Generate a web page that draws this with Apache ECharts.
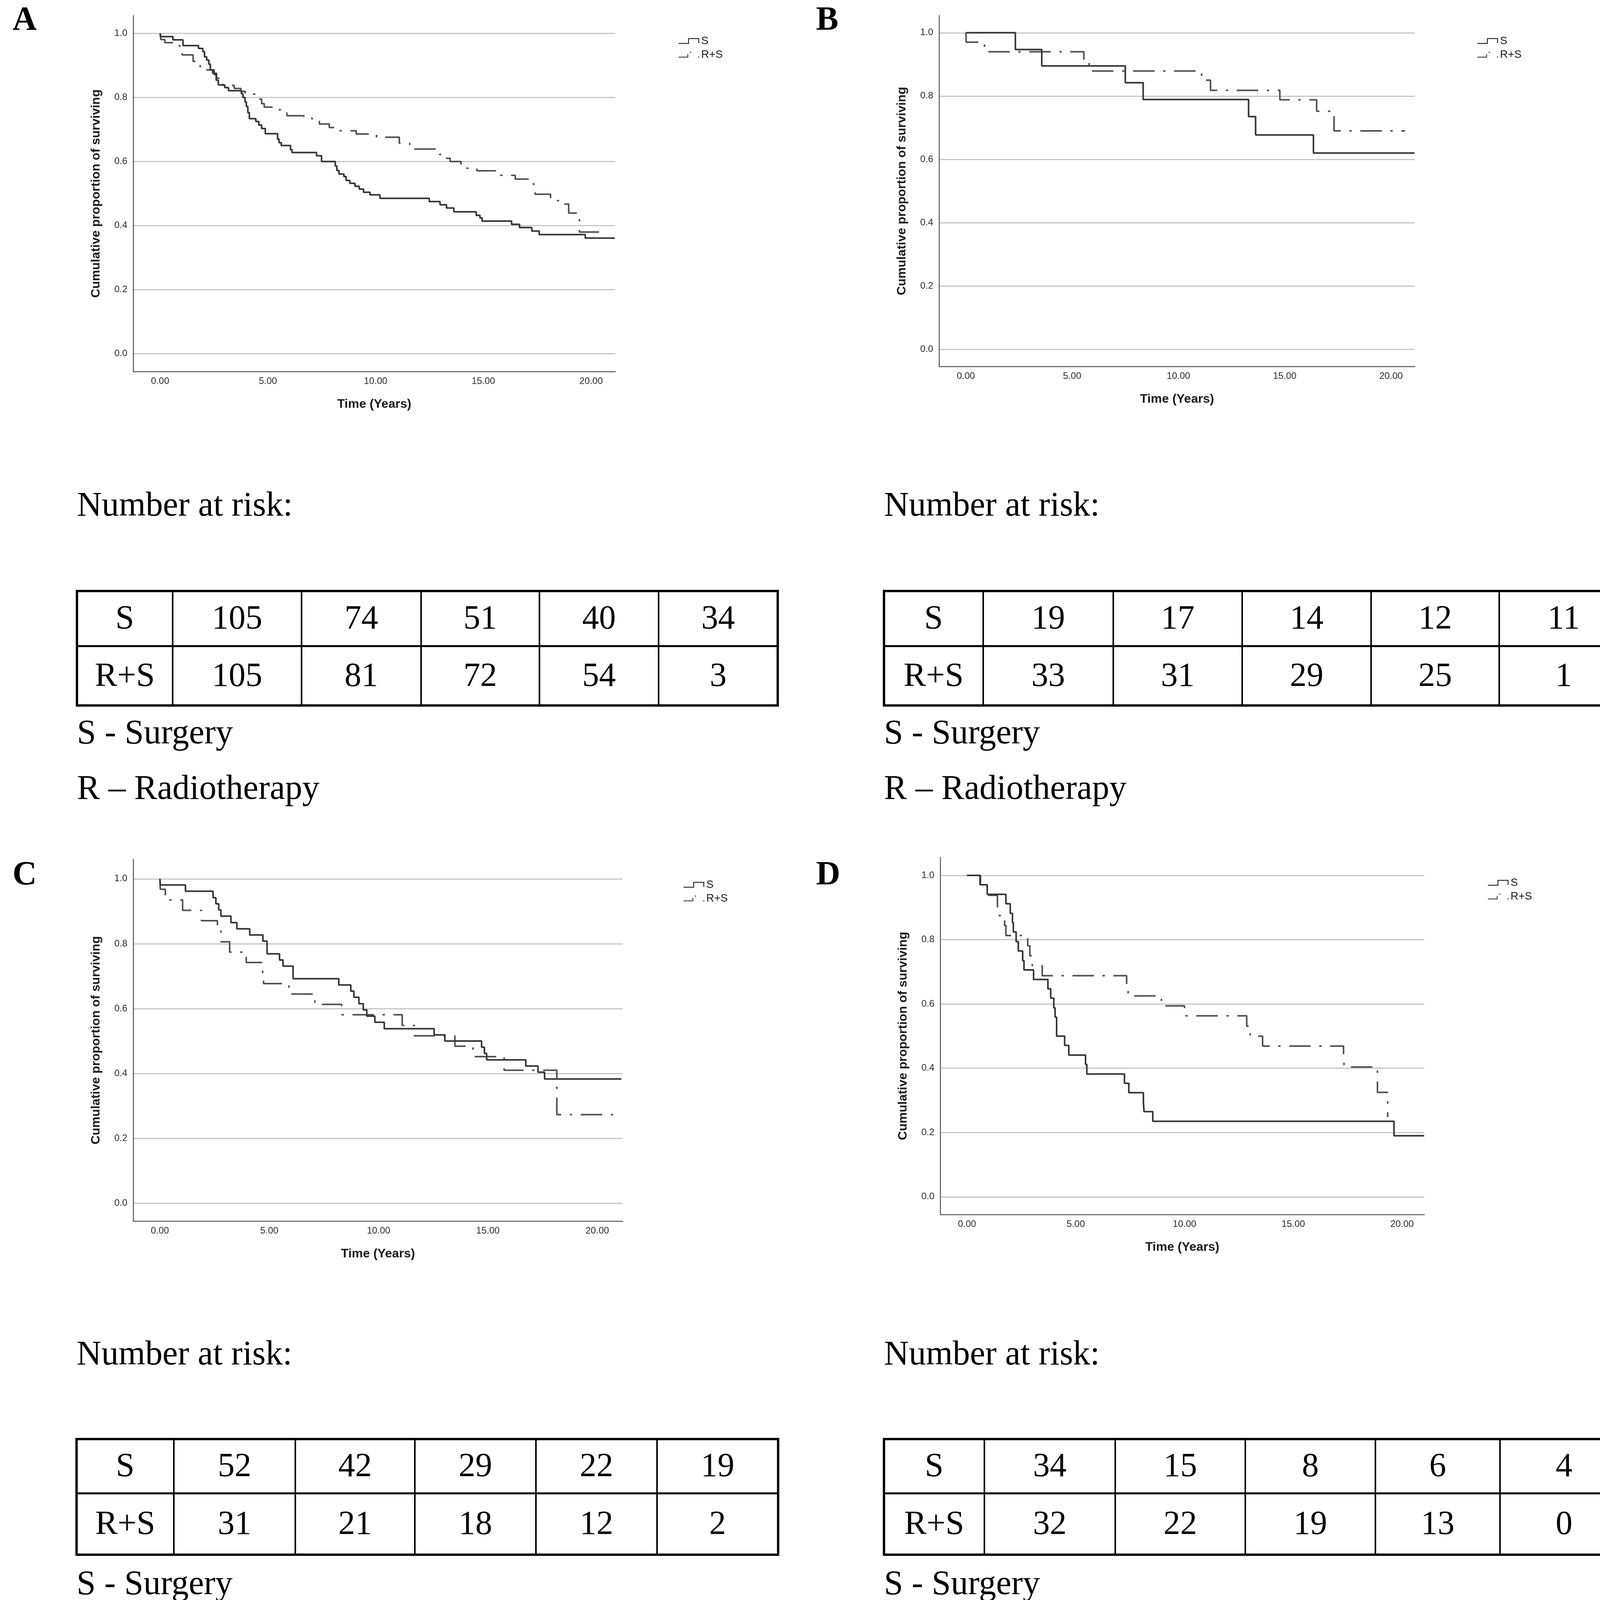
<!DOCTYPE html>
<html>
<head>
<meta charset="utf-8">
<script src="https://cdn.jsdelivr.net/npm/echarts@6/dist/echarts.min.js"></script>
<style>
html,body{margin:0;padding:0;background:#ffffff;}
#chart{width:4211px;height:4272px;}
</style>
</head>
<body>
<div id="chart"></div>
<script>
// ---------------- DATA ----------------
const timeTicks = [0, 5, 10, 15, 20];
const survTicks = [0, 0.2, 0.4, 0.6, 0.8, 1.0];
const seriesNames = ['S', 'R+S'];
const panelLetters = ['A', 'B', 'C', 'D'];

// Kaplan-Meier step points [time (years), cumulative proportion surviving]
const survA_S = [[0,1],[0.02,0.99],[0.59,0.98],[1.06,0.962],[1.78,0.953],[1.98,0.943],[2.06,0.927],[2.16,0.917],[2.26,0.904],[2.33,0.886],[2.5,0.872],[2.6,0.854],[2.7,0.839],[3.0,0.831],[3.17,0.821],[3.77,0.812],[3.84,0.8],[3.94,0.786],[4.0,0.772],[4.07,0.753],[4.14,0.734],[4.44,0.725],[4.58,0.714],[4.71,0.703],[4.88,0.687],[5.45,0.67],[5.52,0.659],[5.62,0.65],[6.05,0.637],[6.12,0.628],[7.26,0.618],[7.49,0.6],[8.13,0.586],[8.2,0.572],[8.3,0.561],[8.53,0.553],[8.63,0.541],[8.8,0.532],[9.04,0.523],[9.24,0.514],[9.44,0.504],[9.74,0.496],[10.2,0.485],[12.49,0.475],[12.99,0.465],[13.29,0.455],[13.63,0.443],[14.67,0.432],[14.84,0.424],[14.94,0.414],[16.31,0.404],[16.68,0.394],[17.25,0.383],[17.59,0.372],[19.73,0.361],[21.1,0.361]];
const survA_RS = [[0,1],[0.03,0.981],[0.22,0.971],[0.69,0.962],[0.92,0.945],[1.02,0.933],[1.53,0.913],[1.69,0.9],[1.86,0.886],[2.43,0.876],[2.62,0.86],[2.9,0.838],[3.44,0.828],[3.75,0.819],[3.95,0.81],[4.58,0.795],[4.71,0.781],[4.83,0.77],[5.5,0.762],[5.88,0.743],[6.67,0.735],[7.06,0.726],[7.39,0.717],[7.85,0.706],[8.26,0.696],[9.1,0.686],[10.04,0.676],[11.1,0.657],[11.58,0.639],[12.96,0.622],[13.13,0.61],[13.46,0.6],[13.96,0.592],[14.23,0.579],[14.7,0.571],[15.64,0.557],[16.48,0.545],[17.32,0.529],[17.4,0.498],[18.12,0.478],[18.49,0.467],[18.96,0.439],[19.46,0.38],[20.75,0.38]];

const survB_S = [[0,1],[2.33,0.947],[3.57,0.895],[7.5,0.842],[8.34,0.789],[13.3,0.735],[13.63,0.677],[16.35,0.62],[21.1,0.62]];
const survB_RS = [[0,1],[0.02,0.97],[0.88,0.94],[5.55,0.909],[5.8,0.879],[11.09,0.85],[11.51,0.818],[14.77,0.788],[16.5,0.752],[17.32,0.69],[20.66,0.69]];

const survC_S = [[0,1],[0.02,0.981],[1.17,0.962],[2.43,0.942],[2.56,0.923],[2.69,0.904],[2.79,0.885],[3.25,0.865],[3.52,0.846],[4.11,0.827],[4.71,0.808],[4.9,0.769],[5.47,0.75],[5.63,0.731],[6.09,0.692],[8.18,0.673],[8.73,0.654],[8.87,0.635],[9.1,0.615],[9.3,0.596],[9.46,0.577],[9.83,0.558],[10.26,0.538],[12.54,0.519],[13.03,0.5],[14.71,0.481],[14.84,0.462],[14.94,0.442],[16.73,0.423],[17.29,0.404],[17.59,0.383],[21.1,0.383]];
const survC_RS = [[0,1],[0.02,0.968],[0.25,0.935],[1.04,0.903],[1.9,0.871],[2.63,0.839],[2.79,0.806],[3.19,0.774],[3.95,0.742],[4.7,0.71],[4.74,0.677],[5.9,0.645],[7.09,0.613],[8.31,0.581],[11.08,0.548],[11.64,0.516],[13.49,0.484],[14.32,0.452],[15.74,0.41],[18.15,0.273],[20.76,0.273]];

const survD_S = [[0,1],[0.6,0.971],[0.93,0.941],[1.79,0.912],[1.99,0.882],[2.09,0.853],[2.13,0.824],[2.26,0.794],[2.36,0.765],[2.56,0.735],[2.62,0.706],[3.06,0.676],[3.72,0.647],[3.85,0.618],[3.99,0.588],[4.05,0.559],[4.12,0.5],[4.49,0.471],[4.68,0.441],[5.45,0.412],[5.51,0.382],[7.24,0.353],[7.44,0.324],[8.11,0.294],[8.14,0.265],[8.54,0.235],[19.63,0.19],[21.02,0.19]];
const survD_RS = [[0,1],[0.62,0.969],[0.93,0.938],[1.4,0.906],[1.43,0.875],[1.73,0.844],[1.79,0.813],[2.79,0.781],[2.89,0.75],[3.0,0.719],[3.46,0.688],[7.34,0.656],[7.41,0.625],[8.94,0.594],[10.0,0.563],[12.86,0.531],[13.02,0.5],[13.59,0.469],[17.31,0.437],[17.34,0.404],[18.87,0.325],[19.34,0.248]];

// Number at risk tables
const riskA_S = [105, 74, 51, 40, 34];
const riskA_RS = [105, 81, 72, 54, 3];
const riskB_S = [19, 17, 14, 12, 11];
const riskB_RS = [33, 31, 29, 25, 1];
const riskC_S = [52, 42, 29, 22, 19];
const riskC_RS = [31, 21, 18, 12, 2];
const riskD_S = [34, 15, 8, 6, 4];
const riskD_RS = [32, 22, 19, 13, 0];

const tableTitle = 'Number at risk:';
const footnotes = ['S - Surgery', 'R \u2013 Radiotherapy'];
const xName = 'Time (Years)';
const yName = 'Cumulative proportion of surviving';

// ---------------- LAYOUT ----------------
const survData = [[survA_S, survA_RS], [survB_S, survB_RS], [survC_S, survC_RS], [survD_S, survD_RS]];
const riskData = [[riskA_S, riskA_RS], [riskB_S, riskB_RS], [riskC_S, riskC_RS], [riskD_S, riskD_RS]];

const layout = [
  {grid:{left:341, top:40, width:1234, height:911}, x:[-1.25,21.12], y:[-0.0556,1.0556], legend:{left:1732, top:86}, letter:[32,54],
   table:{cols:[197,442,772,1078,1381,1686,1991], rows:[1513,1654,1806], title:1297, n1:1880, n2:2022}},
  {grid:{left:2404, top:40, width:1218, height:898}, x:[-1.26,21.12], y:[-0.054,1.054], legend:{left:3777, top:86}, letter:[2089,54],
   table:{cols:[2263,2517,2850,3180,3510,3838,4168], rows:[1513,1654,1806], title:1297, n1:1880, n2:2022}},
  {grid:{left:341, top:2200, width:1253, height:926}, x:[-1.22,21.16], y:[-0.055,1.06], legend:{left:1745, top:2246}, letter:[32,2242],
   table:{cols:[196,445,756,1062,1372,1682,1992], rows:[3684,3823,3980], title:3470, n1:4058, n2:4198}},
  {grid:{left:2407, top:2195, width:1239, height:914}, x:[-1.23,21.02], y:[-0.055,1.056], legend:{left:3804, top:2241}, letter:[2089,2242],
   table:{cols:[2263,2520,2855,3188,3521,3840,4168], rows:[3684,3823,3980], title:3470, n1:4058, n2:4198}}
];

const SANS = '"Liberation Sans", Arial, "DejaVu Sans", sans-serif';
const SERIF = '"Liberation Serif", "Times New Roman", serif';
const solidColor = '#333333';
const dashColor = '#505050';
const axisColor = '#707070';
const gridColor = '#c6c6c6';

const iconS = 'path://M0,12.5h27v2.5h-27z M24.5,0h2.5v15h-2.5z M24.5,0h28.5v2.5h-28.5z M50.5,0h2.5v13h-2.5z';
const iconRS = 'path://M0,12.5h25v2.5h-25z M22.5,6h2.5v9h-2.5z M29,0h3v3h-3z M50,12h3v3h-3z';

const grids = [], xAxes = [], yAxes = [], series = [], legends = [], graphics = [];

layout.forEach((L, i) => {
  grids.push(Object.assign({outerBoundsMode:'none', containLabel:false}, L.grid));
  xAxes.push({
    gridIndex: i, type: 'value', min: L.x[0], max: L.x[1],
    axisLine: {show: true, onZero: false, lineStyle: {color: axisColor, width: 3}},
    axisTick: {show: false, customValues: timeTicks},
    axisLabel: {customValues: timeTicks, formatter: v => v.toFixed(2), fontSize: 24, color: '#2a2a2a', fontFamily: SANS, margin: 13},
    splitLine: {show: false},
    name: xName, nameLocation: 'middle', nameGap: 68, nameMoveOverlap: false,
    nameTextStyle: {fontSize: 32, fontWeight: 'bold', color: '#1a1a1a', fontFamily: SANS}
  });
  yAxes.push({
    gridIndex: i, type: 'value', min: L.y[0], max: L.y[1],
    axisLine: {show: true, onZero: false, lineStyle: {color: axisColor, width: 3}},
    axisTick: {show: false, customValues: survTicks},
    axisLabel: {customValues: survTicks, formatter: v => v.toFixed(1), fontSize: 24, color: '#2a2a2a', fontFamily: SANS, margin: 15},
    splitLine: {show: true, lineStyle: {color: gridColor, width: 3}},
    name: yName, nameLocation: 'middle', nameGap: 79, nameRotate: 90, nameMoveOverlap: false,
    nameTextStyle: {fontSize: 32, fontWeight: 'bold', color: '#1a1a1a', fontFamily: SANS}
  });
  series.push({
    type: 'line', name: seriesNames[0], xAxisIndex: i, yAxisIndex: i, data: survData[i][0],
    step: 'end', symbol: 'none', silent: true, animation: false, z: 3,
    lineStyle: {color: solidColor, width: 4}, itemStyle: {color: solidColor}
  });
  series.push({
    type: 'line', name: seriesNames[1], xAxisIndex: i, yAxisIndex: i, data: survData[i][1],
    step: 'end', symbol: 'none', silent: true, animation: false, z: 2,
    lineStyle: {color: dashColor, width: 4, type: [55, 22, 6, 22]}, itemStyle: {color: dashColor}
  });
  legends.push({
    orient: 'vertical', left: L.legend.left, top: L.legend.top,
    itemWidth: 53, itemHeight: 15, itemGap: 7, selectedMode: false,
    itemStyle: {borderWidth: 0},
    textStyle: {fontSize: 28, color: '#1a1a1a', fontFamily: SANS, padding: [0,0,0,0]},
    data: [{name: seriesNames[0], icon: iconS}, {name: seriesNames[1], icon: iconRS}]
  });

  // panel letter
  graphics.push({type: 'text', x: L.letter[0], y: L.letter[1], silent: true,
    style: {text: panelLetters[i], font: 'bold 86px ' + SERIF, fill: '#000', align: 'left', verticalAlign: 'middle'}});

  // number at risk table
  const T = L.table;
  const tFont = '86px ' + SERIF;
  graphics.push({type: 'text', x: T.cols[0], y: T.title, silent: true,
    style: {text: tableTitle, font: '88px ' + SERIF, fill: '#000', align: 'left', verticalAlign: 'middle'}});
  graphics.push({type: 'text', x: T.cols[0], y: T.n1, silent: true,
    style: {text: footnotes[0], font: '88px ' + SERIF, fill: '#000', align: 'left', verticalAlign: 'middle'}});
  graphics.push({type: 'text', x: T.cols[0], y: T.n2, silent: true,
    style: {text: footnotes[1], font: '88px ' + SERIF, fill: '#000', align: 'left', verticalAlign: 'middle'}});
  // inner vertical lines
  for (let c = 1; c < T.cols.length - 1; c++) {
    graphics.push({type: 'line', silent: true, shape: {x1: T.cols[c], y1: T.rows[0], x2: T.cols[c], y2: T.rows[2]},
      style: {stroke: '#000', lineWidth: 4}});
  }
  // middle horizontal line
  graphics.push({type: 'line', silent: true, shape: {x1: T.cols[0], y1: T.rows[1], x2: T.cols[T.cols.length-1], y2: T.rows[1]},
    style: {stroke: '#000', lineWidth: 5}});
  // outer border
  graphics.push({type: 'rect', silent: true,
    shape: {x: T.cols[0], y: T.rows[0], width: T.cols[T.cols.length-1] - T.cols[0], height: T.rows[2] - T.rows[0]},
    style: {fill: 'none', stroke: '#000', lineWidth: 6}});
  // cells
  for (let r = 0; r < 2; r++) {
    const cy = (T.rows[r] + T.rows[r+1]) / 2 + 3;
    graphics.push({type: 'text', x: (T.cols[0] + T.cols[1]) / 2, y: cy, silent: true,
      style: {text: seriesNames[r], font: tFont, fill: '#000', align: 'center', verticalAlign: 'middle'}});
    riskData[i][r].forEach((v, c) => {
      graphics.push({type: 'text', x: (T.cols[c+1] + T.cols[c+2]) / 2, y: cy, silent: true,
        style: {text: String(v), font: tFont, fill: '#000', align: 'center', verticalAlign: 'middle'}});
    });
  }
});

const chart = echarts.init(document.getElementById('chart'), null, {renderer: 'canvas', width: 4211, height: 4272});
chart.setOption({
  backgroundColor: '#ffffff',
  animation: false,
  grid: grids,
  xAxis: xAxes,
  yAxis: yAxes,
  legend: legends,
  series: series,
  graphic: graphics
});
</script>
</body>
</html>
